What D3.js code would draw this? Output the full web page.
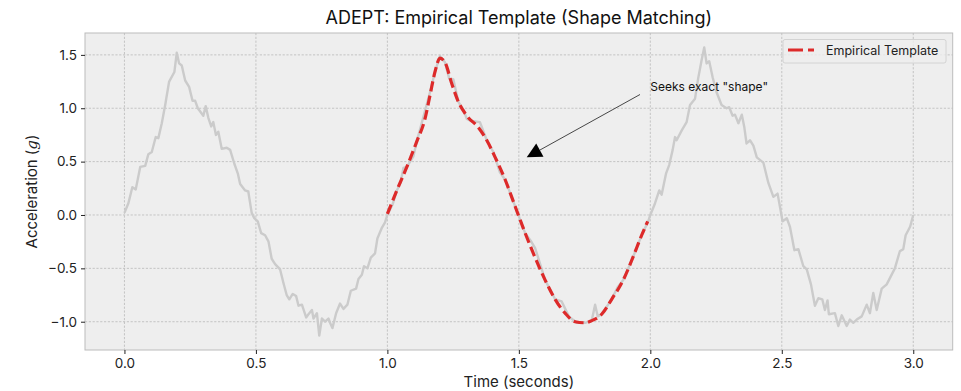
<!DOCTYPE html>
<html>
<head>
<meta charset="utf-8">
<script src="https://cdn.jsdelivr.net/npm/d3@7/dist/d3.min.js"></script>
<style>
  html, body { margin: 0; padding: 0; background: #ffffff; }
  svg { display: block; font-family: "Inter", "Roboto", sans-serif; }
</style>
</head>
<body>
<svg id="chart" width="961" height="391"></svg>
<script>
// ---- Data ----
const signalTime = [
  0.000,0.015,0.030,0.043,0.060,0.079,0.091,0.104,0.119,0.129,0.142,0.155,0.170,0.190,0.199,0.208,0.218,0.231,0.246,0.259,
  0.269,0.279,0.300,0.309,0.319,0.330,0.338,0.348,0.357,0.370,0.389,0.402,0.418,0.431,0.440,0.459,0.471,0.484,0.494,0.507,
  0.520,0.535,0.548,0.560,0.573,0.592,0.605,0.617,0.627,0.640,0.653,0.662,0.675,0.691,0.700,0.713,0.719,0.732,0.741,0.751,
  0.763,0.776,0.782,0.791,0.805,0.820,0.833,0.848,0.861,0.881,0.890,0.903,0.911,0.924,0.937,0.953,0.962,0.979,0.991,
  1.000,1.020,1.036,1.050,1.061,1.074,1.099,1.112,1.137,1.162,1.181,1.200,1.219,1.235,1.251,1.270,1.290,1.302,1.320,1.352,
  1.378,1.403,1.428,1.448,1.486,1.524,1.545,1.562,1.600,1.638,1.663,1.690,1.720,1.752,1.777,1.790,1.800,1.815,1.853,1.875,
  1.897,1.935,1.967,1.992,
  2.000,2.018,2.034,2.043,2.060,2.072,2.085,2.094,2.100,2.119,2.138,2.151,2.170,2.182,2.195,2.205,2.214,2.224,2.237,2.252,
  2.271,2.290,2.300,2.313,2.322,2.335,2.348,2.357,2.366,2.379,2.392,2.405,2.430,2.449,2.468,2.484,2.503,2.519,2.531,2.548,
  2.563,2.582,2.595,2.611,2.626,2.639,2.654,2.664,2.674,2.679,2.702,2.715,2.728,2.747,2.759,2.772,2.785,2.804,2.823,2.835,
  2.848,2.861,2.880,2.899,2.930,2.949,2.962,2.971,2.988,3.000
];
const signalAccel = [
  0.02,0.11,0.26,0.24,0.45,0.46,0.57,0.59,0.73,0.72,0.86,1.03,1.25,1.34,1.52,1.42,1.40,1.26,1.20,1.07,
  1.07,1.00,0.93,1.02,0.91,0.83,0.87,0.75,0.78,0.62,0.63,0.61,0.48,0.39,0.29,0.23,0.22,0.02,-0.03,-0.06,
  -0.17,-0.19,-0.25,-0.41,-0.46,-0.51,-0.64,-0.75,-0.79,-0.74,-0.76,-0.85,-0.84,-0.96,-0.93,-0.89,-0.97,-0.92,-1.13,-0.97,
  -1.00,-0.97,-1.01,-1.06,-0.92,-0.83,-0.88,-0.84,-0.71,-0.69,-0.60,-0.56,-0.48,-0.50,-0.40,-0.36,-0.22,-0.12,-0.07,
  0.00,0.10,0.23,0.30,0.44,0.45,0.55,0.69,0.92,1.15,1.34,1.49,1.43,1.28,1.27,1.06,0.98,0.90,0.88,0.87,
  0.70,0.59,0.40,0.33,0.08,-0.17,-0.24,-0.31,-0.61,-0.79,-0.81,-0.95,-1.01,-1.01,-0.99,-0.84,-0.95,-0.93,-0.79,-0.68,
  -0.61,-0.39,-0.19,-0.06,
  0.00,0.11,0.23,0.19,0.39,0.47,0.61,0.73,0.70,0.79,0.87,1.03,1.09,1.28,1.45,1.57,1.42,1.44,1.29,1.15,
  1.03,1.00,1.01,0.93,0.94,0.86,0.94,0.83,0.67,0.70,0.65,0.54,0.49,0.30,0.17,0.20,-0.06,-0.03,-0.11,-0.33,
  -0.32,-0.48,-0.51,-0.65,-0.85,-0.78,-0.79,-0.89,-0.80,-0.93,-0.92,-1.04,-0.94,-1.04,-0.98,-1.01,-0.98,-0.95,-0.84,-0.92,
  -0.73,-0.89,-0.69,-0.65,-0.50,-0.34,-0.32,-0.19,-0.11,0.00
];
const templateTime = [
  1.000,1.036,1.074,1.112,1.143,1.162,1.181,1.200,1.219,1.245,1.270,1.302,1.346,1.378,1.410,1.448,1.486,1.524,1.562,1.600,
  1.638,1.676,1.714,1.752,1.777,1.815,1.853,1.897,1.935,1.967,1.990
];
const templateAccel = [
  0.01,0.23,0.45,0.69,0.90,1.12,1.34,1.47,1.43,1.23,1.06,0.93,0.82,0.70,0.54,0.33,0.08,-0.17,-0.40,-0.61,
  -0.79,-0.92,-1.00,-1.01,-0.99,-0.93,-0.79,-0.61,-0.39,-0.19,-0.06
];
const xTicks = [0.0, 0.5, 1.0, 1.5, 2.0, 2.5, 3.0];
const yTicks = [-1.0, -0.5, 0.0, 0.5, 1.0, 1.5];
const titleText = "ADEPT: Empirical Template (Shape Matching)";
const xLabelText = "Time (seconds)";
const legendLabel = "Empirical Template";
const annotationText = "Seeks exact \"shape\"";
const annotationXY = [1.53, 0.54];      // arrow tip (data units)
const annotationTextXY = [2.0, 1.2];    // text anchor (data units)

// ---- Layout ----
const plot = { left: 85, right: 952.7, top: 33, bottom: 350 };
const svg = d3.select("#chart");

const x = d3.scaleLinear().domain([-0.15, 3.15]).range([plot.left, plot.right]);
const y = d3.scaleLinear().domain([-1.265, 1.705]).range([plot.bottom, plot.top]);

// background
svg.append("rect")
  .attr("x", plot.left).attr("y", plot.top)
  .attr("width", plot.right - plot.left).attr("height", plot.bottom - plot.top)
  .attr("fill", "#eeeeee");

// grid
const grid = svg.append("g");
grid.selectAll("line.gx").data(xTicks).join("line")
  .attr("x1", d => x(d)).attr("x2", d => x(d))
  .attr("y1", plot.top).attr("y2", plot.bottom)
  .attr("stroke", "#b9b9b9").attr("stroke-width", 0.8).attr("stroke-dasharray", "2.2,1.6");
grid.selectAll("line.gy").data(yTicks).join("line")
  .attr("y1", d => y(d)).attr("y2", d => y(d))
  .attr("x1", plot.left).attr("x2", plot.right)
  .attr("stroke", "#b9b9b9").attr("stroke-width", 0.8).attr("stroke-dasharray", "2.2,1.6");

// signal
const signal = signalTime.map((t, i) => [t, signalAccel[i]]);
const template = templateTime.map((t, i) => [t, templateAccel[i]]);

svg.append("path")
  .datum(signal)
  .attr("d", d3.line().x(d => x(d[0])).y(d => y(d[1])))
  .attr("fill", "none").attr("stroke", "#cbcbcb").attr("stroke-width", 2.4)
  .attr("stroke-linejoin", "round");

svg.append("path")
  .datum(template)
  .attr("d", d3.line().x(d => x(d[0])).y(d => y(d[1])).curve(d3.curveMonotoneX))
  .attr("fill", "none").attr("stroke", "#dd2a2a").attr("stroke-width", 3.2)
  .attr("stroke-dasharray", "10,4.5");

// frame
svg.append("rect")
  .attr("x", plot.left).attr("y", plot.top)
  .attr("width", plot.right - plot.left).attr("height", plot.bottom - plot.top)
  .attr("fill", "none").attr("stroke", "#bcbcbc").attr("stroke-width", 1);

// axes
const xAxis = d3.axisBottom(x).tickValues(xTicks).tickFormat(d3.format(".1f")).tickSize(4).tickPadding(4);
const yAxis = d3.axisLeft(y).tickValues(yTicks).tickFormat(d => d3.format(".1f")(d).replace("-", "\u2212")).tickSize(4).tickPadding(4);
const gx = svg.append("g").attr("transform", `translate(0,${plot.bottom})`).call(xAxis);
const gy = svg.append("g").attr("transform", `translate(${plot.left},0)`).call(yAxis);
[gx, gy].forEach(g => {
  g.select(".domain").remove();
  g.selectAll(".tick line").attr("stroke", "#222").attr("stroke-width", 1);
  g.selectAll(".tick text").attr("fill", "#222").style("font-size", "13.5px").style("font-family", "Inter, sans-serif");
});

// title & labels
svg.append("text")
  .attr("x", (plot.left + plot.right) / 2).attr("y", 24)
  .attr("text-anchor", "middle").attr("fill", "#111")
  .style("font-size", "18px")
  .text(titleText);

svg.append("text")
  .attr("x", (plot.left + plot.right) / 2).attr("y", 387)
  .attr("text-anchor", "middle").attr("fill", "#222")
  .style("font-size", "15px")
  .text(xLabelText);

const yl = svg.append("text")
  .attr("transform", `translate(37,${(plot.top + plot.bottom) / 2}) rotate(-90)`)
  .attr("text-anchor", "middle").attr("fill", "#222")
  .style("font-size", "15px");
yl.append("tspan").text("Acceleration (");
yl.append("tspan").style("font-style", "italic").style("font-family", "DejaVu Serif, serif").text("g");
yl.append("tspan").text(")");

// annotation
const tip = [x(annotationXY[0]), y(annotationXY[1])];
const tx = x(annotationTextXY[0]), ty = y(annotationTextXY[1]);
const start = [640, 94.5];
const ang = Math.atan2(tip[1] - start[1], tip[0] - start[0]);
const headLen = 15, headHalf = 7.5;
const bx = tip[0] - headLen * Math.cos(ang), by = tip[1] - headLen * Math.sin(ang);
svg.append("line")
  .attr("x1", start[0]).attr("y1", start[1]).attr("x2", bx).attr("y2", by)
  .attr("stroke", "#333").attr("stroke-width", 0.9);
svg.append("polygon")
  .attr("points", [
    tip,
    [bx + headHalf * Math.sin(ang), by - headHalf * Math.cos(ang)],
    [bx - headHalf * Math.sin(ang), by + headHalf * Math.cos(ang)]
  ].map(p => p.join(",")).join(" "))
  .attr("fill", "#000");
svg.append("text")
  .attr("x", tx).attr("y", ty + 4)
  .attr("fill", "#111").style("font-size", "12px")
  .text(annotationText);

// legend
const lg = svg.append("g");
lg.append("rect")
  .attr("x", 783).attr("y", 39.5).attr("width", 163).attr("height", 23.5).attr("rx", 2)
  .attr("fill", "#eeeeee").attr("fill-opacity", 0.8).attr("stroke", "#cccccc").attr("stroke-width", 0.8);
lg.append("line")
  .attr("x1", 788).attr("x2", 814).attr("y1", 50).attr("y2", 50)
  .attr("stroke", "#dd2a2a").attr("stroke-width", 3).attr("stroke-dasharray", "15,5");
lg.append("text")
  .attr("x", 826).attr("y", 55).attr("fill", "#222").style("font-size", "12.5px")
  .text(legendLabel);
</script>
</body>
</html>
